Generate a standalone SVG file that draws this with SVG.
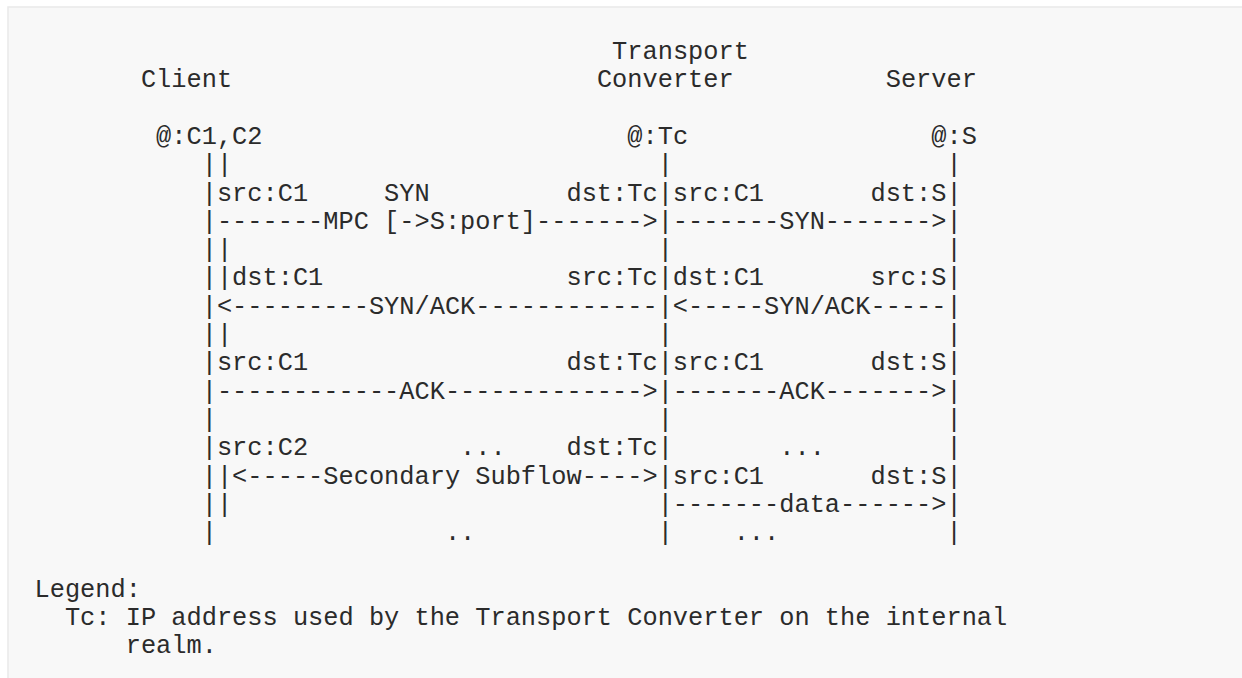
<svg xmlns="http://www.w3.org/2000/svg" width="1242" height="678" viewBox="0 0 1242 678">
  <style>
    .t { font-family: "Liberation Mono", "DejaVu Sans Mono", monospace; font-size: 25.33px; fill: #2b2b2b; white-space: pre; }
  </style>
  <!-- preformatted block background -->
  <rect x="8" y="7" width="1240" height="680" fill="#f8f8f8" stroke="#e9e9e9" stroke-width="1.5"/>

  <!-- endpoints -->
  <g id="client">
    <text class="t" x="140.9" y="87.3">Client</text>
    <text class="t" x="156.1" y="143.9">@:C1,C2</text>
  </g>
  <g id="converter">
    <text class="t" x="612.1" y="59">Transport</text>
    <text class="t" x="596.9" y="87.3">Converter</text>
    <text class="t" x="627.3" y="143.9">@:Tc</text>
  </g>
  <g id="server">
    <text class="t" x="885.7" y="87.3">Server</text>
    <text class="t" x="931.3" y="143.9">@:S</text>
  </g>

  <!-- lifelines and message exchanges, one text row each -->
  <g id="connectors">
    <text class="t" xml:space="preserve" x="201.7" y="172.2">||                            |                  |</text>
    <text class="t" xml:space="preserve" x="201.7" y="200.5">|src:C1     SYN         dst:Tc|src:C1       dst:S|</text>
    <text class="t" xml:space="preserve" x="201.7" y="228.8">|-------MPC [->S:port]------->|-------SYN------->|</text>
    <text class="t" xml:space="preserve" x="201.7" y="257.1">||                            |                  |</text>
    <text class="t" xml:space="preserve" x="201.7" y="285.4">||dst:C1                src:Tc|dst:C1       src:S|</text>
    <text class="t" xml:space="preserve" x="201.7" y="313.7">|&lt;---------SYN/ACK------------|&lt;-----SYN/ACK-----|</text>
    <text class="t" xml:space="preserve" x="201.7" y="342.0">||                            |                  |</text>
    <text class="t" xml:space="preserve" x="201.7" y="370.3">|src:C1                 dst:Tc|src:C1       dst:S|</text>
    <text class="t" xml:space="preserve" x="201.7" y="398.6">|------------ACK-------------&gt;|-------ACK-------&gt;|</text>
    <text class="t" xml:space="preserve" x="201.7" y="426.9">|                             |                  |</text>
    <text class="t" xml:space="preserve" x="201.7" y="455.2">|src:C2          ...    dst:Tc|       ...        |</text>
    <text class="t" xml:space="preserve" x="201.7" y="483.5">||&lt;-----Secondary Subflow----&gt;|src:C1       dst:S|</text>
    <text class="t" xml:space="preserve" x="201.7" y="511.8">||                            |-------data------&gt;|</text>
    <text class="t" xml:space="preserve" x="201.7" y="540.1">|               ..            |    ...           |</text>
  </g>

  <!-- legend -->
  <g id="legend">
    <text class="t" x="34.5" y="596.7">Legend:</text>
    <text class="t" x="64.9" y="625">Tc: IP address used by the Transport Converter on the internal</text>
    <text class="t" x="125.7" y="653.3">realm.</text>
  </g>
</svg>
